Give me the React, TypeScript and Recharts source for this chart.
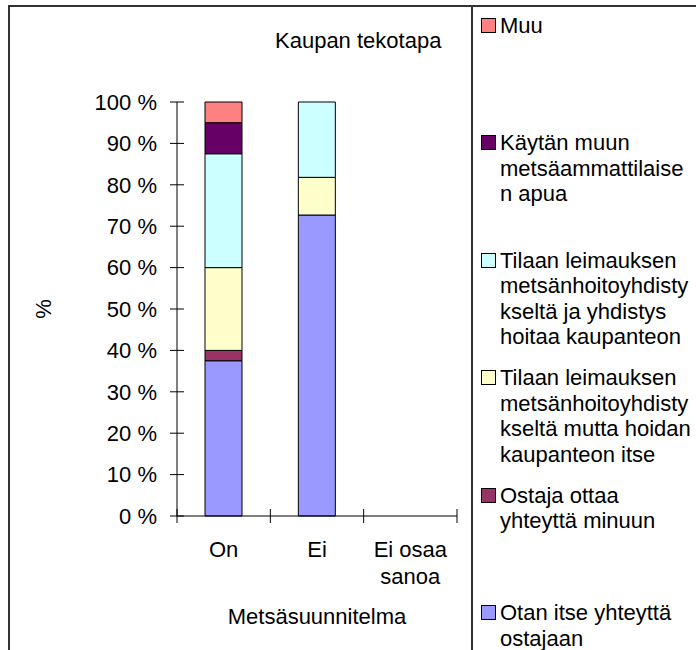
import { Bar, BarChart, Legend, Text, XAxis, YAxis } from "recharts"

const categories = ["On", "Ei", "Ei osaa sanoa"]
const otanItse = [37.5, 72.7, 0]
const ostajaOttaa = [2.5, 0, 0]
const tilaanHoidanItse = [20, 9.1, 0]
const tilaanYhdistysHoitaa = [27.5, 18.2, 0]
const kaytanMuun = [7.5, 0, 0]
const muu = [5, 0, 0]
const yTicks = [0, 10, 20, 30, 40, 50, 60, 70, 80, 90, 100]

// stacking order, bottom to top
const seriesKeys = ["otan", "ostaja", "tilaanItse", "tilaanYhdistys", "kaytan", "muu"]
const seriesValues = [otanItse, ostajaOttaa, tilaanHoidanItse, tilaanYhdistysHoitaa, kaytanMuun, muu]
const seriesNames = [
  "Otan itse yhteyttä\nostajaan",
  "Ostaja ottaa\nyhteyttä minuun",
  "Tilaan leimauksen\nmetsänhoitoyhdisty\nkseltä mutta hoidan\nkaupanteon itse",
  "Tilaan leimauksen\nmetsänhoitoyhdisty\nkseltä ja yhdistys\nhoitaa kaupanteon",
  "Käytän muun\nmetsäammattilaise\nn apua",
  "Muu",
]
const seriesColors = ["#9999FF", "#993366", "#FFFFCC", "#CCFFFF", "#660066", "#FF8080"]

const title = "Kaupan tekotapa"
const xTitle = "Metsäsuunnitelma"
const yTitle = "%"

const data = categories.map((name, i) => {
  const row: Record<string, string | number> = { name }
  seriesKeys.forEach((key, s) => {
    row[key] = seriesValues[s][i]
  })
  return row
})

const FONT = "'Liberation Sans', Arial, sans-serif"
const W = 696
const H = 650
const margin = { top: 102, right: 239, bottom: 0, left: 30 }
const yAxisWidth = 147
const bandWidth = (W - margin.left - yAxisWidth - margin.right) / categories.length
const textStyle = { fontFamily: FONT, fontSize: 22 }

function CategoryTick(props: any) {
  const { x, y, payload, index } = props
  const left = x - bandWidth / 2
  const right = x + bandWidth / 2
  return (
    <g>
      <line x1={left} x2={left} y1={y - 7} y2={y + 7} stroke="#000" />
      {index === categories.length - 1 && <line x1={right} x2={right} y1={y - 7} y2={y + 7} stroke="#000" />}
      <Text
        x={x}
        y={y + 25}
        width={90}
        textAnchor="middle"
        verticalAnchor="start"
        lineHeight={27}
        fill="#000"
        style={textStyle}
      >
        {payload.value}
      </Text>
    </g>
  )
}

function PercentTick(props: any) {
  const { x, y, payload } = props
  return (
    <g>
      <line x1={x - 7} x2={x + 7} y1={y} y2={y} stroke="#000" />
      <Text x={x - 20} y={y} textAnchor="end" verticalAnchor="middle" fill="#000" style={textStyle}>
        {`${payload.value} %`}
      </Text>
    </g>
  )
}

function LegendContent(props: any) {
  const items = [...(props.payload ?? [])].sort(
    (a: any, b: any) => seriesKeys.indexOf(b.dataKey) - seriesKeys.indexOf(a.dataKey)
  )
  return (
    <div style={{ position: "relative", width: 224, height: 630, fontFamily: FONT }}>
      {items.map((item: any, i: number) => (
        <div key={item.dataKey} style={{ position: "absolute", top: i * 117.4, left: 0, display: "flex" }}>
          <span
            style={{
              display: "block",
              width: 13,
              height: 13,
              marginLeft: 9,
              marginTop: 5,
              border: "1px solid #000",
              background: item.color,
              flex: "none",
            }}
          />
          <span style={{ marginLeft: 4, whiteSpace: "pre-line", fontSize: 22, lineHeight: "25.5px", color: "#000" }}>
            {item.value}
          </span>
        </div>
      ))}
    </div>
  )
}

export default function App() {
  return (
    <div style={{ position: "absolute", left: 0, top: 0, width: W, height: H, overflow: "hidden", background: "#fff" }}>
      <div
        style={{
          position: "absolute",
          left: 8,
          top: 5,
          width: 1000,
          height: 1000,
          borderLeft: "2px solid #333",
          borderTop: "2px solid #333",
        }}
      />
      <div style={{ position: "absolute", left: 471, top: 5, width: 2, height: 700, background: "#333" }} />
      <div
        style={{
          position: "absolute",
          left: 275,
          top: 28,
          lineHeight: "25.5px",
          whiteSpace: "nowrap",
          ...textStyle,
        }}
      >
        {title}
      </div>
      <BarChart width={W} height={H} data={data} margin={margin} style={{ fontFamily: FONT }}>
        <XAxis
          dataKey="name"
          height={134}
          interval={0}
          tickSize={0}
          tickMargin={0}
          tickLine={false}
          axisLine={{ stroke: "#000" }}
          tick={CategoryTick}
          label={{ value: xTitle, position: "insideBottom", offset: 26, fill: "#000", style: textStyle }}
        />
        <XAxis xAxisId="frame" dataKey="name" orientation="top" height={0} tick={false} tickLine={false} axisLine={{ stroke: "#999" }} />
        <YAxis
          width={yAxisWidth}
          domain={[0, 100]}
          ticks={yTicks}
          interval={0}
          tickSize={0}
          tickMargin={0}
          tickLine={false}
          axisLine={{ stroke: "#000" }}
          tick={PercentTick}
          label={{
            value: yTitle,
            angle: -90,
            position: "insideLeft",
            offset: 13,
            fill: "#000",
            style: { ...textStyle, textAnchor: "middle" },
          }}
        />
        <YAxis yAxisId="frame" orientation="right" width={0} domain={[0, 100]} tick={false} tickLine={false} axisLine={{ stroke: "#999" }} />
        {seriesKeys.map((key, s) => (
          <Bar
            key={key}
            dataKey={key}
            name={seriesNames[s]}
            stackId="a"
            fill={seriesColors[s]}
            stroke="#000"
            strokeWidth={1}
            barSize={37}
            isAnimationActive={false}
          />
        ))}
        <Legend
          layout="horizontal"
          verticalAlign="middle"
          align="center"
          content={LegendContent}
          wrapperStyle={{ left: 472, top: 13, width: 224, height: 630 }}
        />
      </BarChart>
    </div>
  )
}
